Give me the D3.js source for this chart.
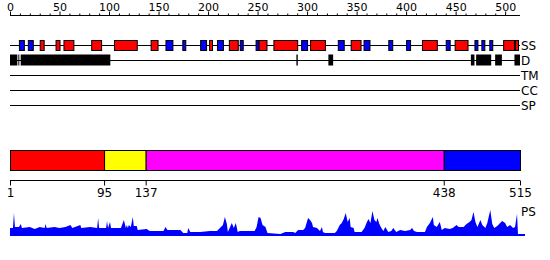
<!DOCTYPE html>
<html><head><meta charset="utf-8">
<script src="https://cdn.jsdelivr.net/npm/d3@7"></script>
<style>body{margin:0;background:#fff}svg{display:block}text{font-family:"DejaVu Sans",sans-serif}</style>
</head><body><svg id="c" width="550" height="260"></svg>
<script>
const seqLength = 515;
const topTicks = [0,50,100,150,200,250,300,350,400,450,500];
const trackNames = ["SS","D","TM","CC","SP"];
const ssStart = [9,18,30,46,54,82,105,142,157,174,192,201,209,221,232,248,251,266,294,303,331,344,357,382,400,416,440,449,469,476,484,498,510];
const ssEnd   = [14,23,34,50,64,92,128,149,164,177,198,204,215,230,235,251,259,290,300,318,337,354,363,386,404,431,444,462,472,479,487,509,513];
const ssType  = ["E","E","H","H","H","H","H","H","E","E","E","H","E","H","E","E","H","H","E","H","E","H","E","E","E","H","E","H","E","E","E","H","H"];
const dStart = [0,8.4,10.8,289.2,321.5,465.4,470.7,489.9,509.4];
const dEnd   = [7.4,9.4,101.3,290.6,326.3,469,485.9,496.7,515];
const domStart = [1,95,137,438];
const domEnd   = [95,137,438,515];
const domColor = ["#ff0000","#ffff00","#ff00ff","#0000ff"];
const domTicks = [1,95,137,438,515];
const psPos = [0,3,4,5,9,11,12,20,25,30,35,36,37,45,50,56,61,63,71,72,81,88,89,90,97,98,99,101,102,112,115,117,118,119,120,122,124,125,128,129,138,141,155,157,159,172,175,179,180,182,192,202,209,212,215,217,219,220,224,226,228,230,232,247,249,251,253,255,258,260,273,278,286,288,291,296,298,301,303,305,306,310,313,315,316,318,328,330,333,335,337,339,341,343,344,347,348,355,358,360,362,364,366,368,370,371,373,375,377,379,382,385,387,390,394,399,404,406,408,411,419,421,424,427,428,431,434,436,439,444,447,451,453,458,461,464,466,468,470,472,475,477,480,482,485,487,489,492,495,497,500,502,505,508,510,512,513];
const psVal = [7,7,22,8,8,11,7,8,6,8,7,11,7,8,7,8,10,7,10,7,8,7,17,7,7,14,7,13,7,7,15,7,10,7,10,8,18,9,9,5,6,4,4,8,5,5,2,2,7,3,3,4,4,7,10,18,11,3,12,7,12,3,4,4,8,18,17,10,8,2,1,3,3,2,5,5,7,17,15,12,8,7,4,8,3,2,2,4,10,12,16,22,13,17,8,7,3,3,7,12,16,12,24,15,13,17,11,7,4,8,3,4,7,3,5,4,5,7,4,3,3,8,12,18,10,8,13,5,7,6,7,10,8,8,11,13,15,23,13,8,15,10,7,12,25,11,7,9,12,14,12,8,10,7,8,21,0];

const svg = d3.select("#c");
const x = d3.scaleLinear().domain([0, seqLength]).range([10, 520]);

// top ruler
const topAxis = d3.axisTop(x).tickValues(d3.range(0, 501, 10))
  .tickSize(2).tickFormat(d => topTicks.includes(d) ? d : "");
const gt = svg.append("g").attr("transform","translate(0,15.5)").call(topAxis);
gt.select(".domain").attr("d", `M${x(0)},0H${x(seqLength)}`).attr("stroke","#000");
gt.selectAll(".tick line").attr("stroke","#000").attr("y2", d => topTicks.includes(d) ? -4 : -2);
gt.selectAll(".tick text").attr("y",-5).attr("font-size",11).attr("fill","#000").attr("font-family","DejaVu Sans");

// tracks
const trackY = [45,60,75,90,105];
trackNames.forEach((n,i)=>{
  svg.append("line").attr("x1",x(0)).attr("x2",x(seqLength)).attr("y1",trackY[i]+0.5).attr("y2",trackY[i]+0.5).attr("stroke","#000");
  svg.append("text").attr("x",x(seqLength)+1).attr("y",trackY[i]+0.5).attr("dy","0.35em").attr("font-size",12).text(n);
});
svg.append("g").selectAll("rect").data(ssStart.map((s,i)=>({s,e:ssEnd[i],t:ssType[i]}))).join("rect")
  .attr("x",d=>x(d.s)+0.5).attr("width",d=>x(d.e)-x(d.s)).attr("y",40.5).attr("height",10)
  .attr("fill",d=>d.t==="H"?"#ff0000":"#0000ff").attr("stroke","#000");
svg.append("g").selectAll("rect").data(dStart.map((s,i)=>({s,e:dEnd[i]}))).join("rect")
  .attr("x",d=>x(d.s)).attr("width",d=>x(d.e)-x(d.s)).attr("y",54.5).attr("height",11).attr("fill","#000");

// domains
svg.append("g").selectAll("rect").data(domStart.map((s,i)=>({s,e:domEnd[i],c:domColor[i]}))).join("rect")
  .attr("x",d=>x(d.s===1?0:d.s)+0.5).attr("width",d=>x(d.e)-x(d.s===1?0:d.s)).attr("y",150.5).attr("height",20)
  .attr("fill",d=>d.c).attr("stroke","#000");

const bAxis = d3.axisBottom(x).tickValues(domTicks).tickSize(5).tickPadding(3);
const gb = svg.append("g").attr("transform","translate(0,180.5)").call(bAxis);
gb.select(".domain").attr("d", `M${x(0)},0H${x(seqLength)}`).attr("stroke","#000");
gb.selectAll(".tick").attr("transform", d => `translate(${(d===1?x(0):x(d))+0.5},0)`);
gb.selectAll(".tick line").attr("stroke","#000");
gb.selectAll(".tick text").attr("font-size",12).attr("fill","#000").attr("font-family","DejaVu Sans");

// PS plot
const y = d3.scaleLinear().domain([0,25]).range([235,210]);
const area = d3.area().x((d,i)=>x(psPos[i])).y0(236).y1((d)=>y(d));
svg.append("path").datum(psVal).attr("d",area).attr("fill","#0000ff");
svg.append("line").attr("x1",x(0)).attr("x2",x(seqLength)+5).attr("y1",235).attr("y2",235).attr("stroke","#0000ff").attr("stroke-width",2);
svg.append("text").attr("x",x(seqLength)+1).attr("y",212).attr("dy","0.35em").attr("font-size",12).text("PS");
</script></body></html>
